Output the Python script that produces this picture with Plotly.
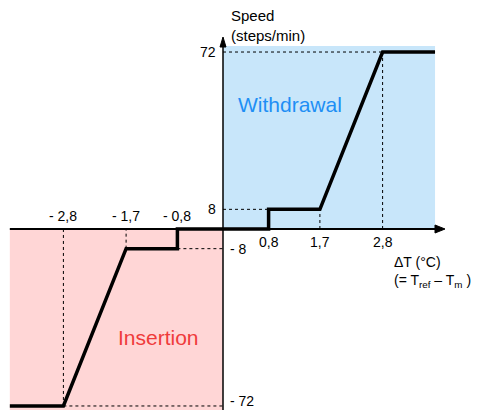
import plotly.graph_objects as go

# Data (schematic control law)
dT = [-3.74, -2.8, -1.7, -0.8, -0.8, 0.8, 0.8, 1.7, 2.8, 3.72]
speed = [-72, -72, -8, -8, 0, 0, 8, 8, 72, 72]
x_ticks_neg = [-2.8, -1.7, -0.8]
x_labels_neg = ["- 2,8", "- 1,7", "- 0,8"]
x_ticks_pos = [0.8, 1.7, 2.8]
x_labels_pos = ["0,8", "1,7", "2,8"]
y_ticks_pos = [72, 8]
y_labels_pos = ["72", "8"]
y_ticks_neg = [-8, -72]
y_labels_neg = ["- 8", "- 72"]

PXX = 57.0
PXY = 2.458
xr = [-223 / PXX, 254 / PXX]
yr = [-181 / PXY, 229 / PXY]

FONT = "Liberation Sans, Arial, sans-serif"

fig = go.Figure()
fig.add_trace(go.Scatter(x=dT, y=speed, mode="lines",
                         line=dict(color="black", width=3.5), hoverinfo="skip",
                         showlegend=False))

shapes = []
# shaded quadrants
shapes.append(dict(type="rect", x0=0, x1=dT[-1], y0=0, y1=(229 - 46) / PXY, fillcolor="#c8e6fa",
                   line=dict(width=0), layer="below"))
shapes.append(dict(type="rect", x0=dT[0], x1=0, y0=yr[0], y1=0, fillcolor="#ffd6d6",
                   line=dict(width=0), layer="below"))
dot = dict(color="black", width=1, dash="dot")
# dotted guides
shapes += [
    dict(type="line", x0=0, x1=2.8, y0=72, y1=72, line=dot),
    dict(type="line", x0=2.8, x1=2.8, y0=0, y1=72, line=dot),
    dict(type="line", x0=0, x1=0.8, y0=8, y1=8, line=dot),
    dict(type="line", x0=1.7, x1=1.7, y0=0, y1=8, line=dot),
    dict(type="line", x0=-2.8, x1=0, y0=-72, y1=-72, line=dot),
    dict(type="line", x0=-2.8, x1=-2.8, y0=-72, y1=0, line=dot),
    dict(type="line", x0=-0.8, x1=0, y0=-8, y1=-8, line=dot),
    dict(type="line", x0=-1.7, x1=-1.7, y0=-8, y1=0, line=dot),
]

# axes lines + arrowheads
x_tip = (445 - 223) / PXX
x_base = (435 - 223) / PXX
hh = 4 / PXY
y_tip = (229 - 37) / PXY
y_base = (229 - 47) / PXY
hw = 3 / PXX
shapes += [
    dict(type="line", x0=dT[0], x1=x_base, y0=0, y1=0, line=dict(color="black", width=2)),
    dict(type="path", path=f"M {x_base},{hh} L {x_tip},0 L {x_base},{-hh} Z",
         fillcolor="black", line=dict(color="black", width=1)),
    dict(type="line", x0=0, x1=0, y0=yr[0], y1=y_base, line=dict(color="black", width=1.5)),
    dict(type="path", path=f"M {-hw},{y_base} L 0,{y_tip} L {hw},{y_base} Z",
         fillcolor="black", line=dict(color="black", width=1)),
]

ann = []
tf = dict(family=FONT, size=14, color="black")
for v, t in zip(x_ticks_neg, x_labels_neg):
    ann.append(dict(x=v, y=0, xref="x", yref="y", text=t, showarrow=False, yanchor="bottom",
                    yshift=3, font=tf))
for v, t in zip(x_ticks_pos, x_labels_pos):
    ann.append(dict(x=v, y=0, xref="x", yref="y", text=t, showarrow=False, yanchor="top",
                    yshift=-3, font=tf))
for v, t in zip(y_ticks_pos, y_labels_pos):
    ann.append(dict(x=0, y=v, xref="x", yref="y", text=t, showarrow=False, xanchor="right",
                    xshift=-5, font=tf))
for v, t in zip(y_ticks_neg, y_labels_neg):
    ann.append(dict(x=0, y=v, xref="x", yref="y", text=t, showarrow=False, xanchor="left",
                    xshift=5, yshift=(5 if v == y_ticks_neg[-1] else 0), font=tf))

ann.append(dict(x=0.1, y=yr[1] - 2, xref="x", yref="y", text="Speed<br>(steps/min)",
                showarrow=False, xanchor="left", yanchor="top", align="left",
                font=dict(family=FONT, size=15, color="black")))
ann.append(dict(x=(392 - 223) / PXX, y=-9.5, xref="x", yref="y",
                text="ΔT (°C)<br>(= T<sub>ref</sub> – T<sub>m</sub> )",
                showarrow=False, xanchor="left", yanchor="top", align="left",
                font=dict(family=FONT, size=14, color="black")))
ann.append(dict(x=(290 - 223) / PXX, y=(229 - 104) / PXY, xref="x", yref="y", text="Withdrawal",
                showarrow=False, font=dict(family=FONT, size=21, color="#1e8ff5")))
ann.append(dict(x=(158 - 223) / PXX, y=(229 - 337) / PXY, xref="x", yref="y", text="Insertion",
                showarrow=False, font=dict(family=FONT, size=21, color="#ef3b3b")))

fig.update_layout(
    width=477, height=410, autosize=False,
    margin=dict(l=0, r=0, t=0, b=0),
    paper_bgcolor="white", plot_bgcolor="white",
    xaxis=dict(range=xr, visible=False, fixedrange=True),
    yaxis=dict(range=yr, visible=False, fixedrange=True),
    shapes=shapes, annotations=ann, showlegend=False,
)
fig.write_html("out.html", config={"displayModeBar": False},
               post_script="document.body.style.margin='0';document.body.style.overflow='hidden';")
